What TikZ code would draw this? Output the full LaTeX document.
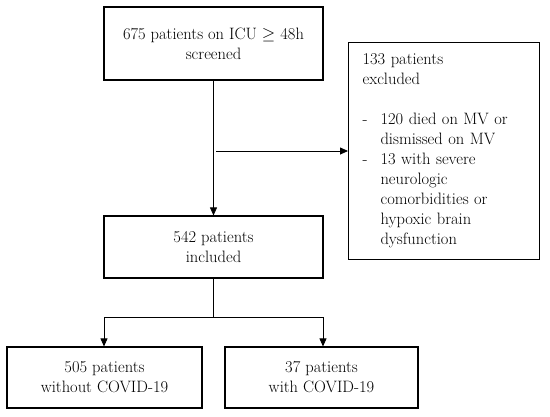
\documentclass[tikz,border=0pt]{standalone}
\usetikzlibrary{arrows.meta}
\begin{document}
\begin{tikzpicture}[x=1pt,y=-1pt,
  box/.style={draw, line width=1.1pt, inner sep=0pt, font=\fontsize{16.5}{20}\selectfont},
  arrow/.style={line width=0.8pt, -{Triangle[length=8pt,width=7pt]}},
  conn/.style={line width=0.8pt}]
\useasboundingbox (0,0) rectangle (550,416);
\node[box, minimum width=219, minimum height=73, align=center] (top) at (213.5,43.5) {675 patients on ICU $\geq$ 48h\\screened};
\node[box, minimum width=191, minimum height=217.5, anchor=north west, align=left, text width=163] (excl) at (348,41.5)
  {133 patients\\excluded\\[20pt]
   \makebox[18pt][l]{-}120 died on MV or\\
   \hspace*{18pt}dismissed on MV\\
   \makebox[18pt][l]{-}13 with severe\\
   \hspace*{18pt}neurologic\\
   \hspace*{18pt}comorbidities or\\
   \hspace*{18pt}hypoxic brain\\
   \hspace*{18pt}dysfunction};
\node[box, minimum width=219, minimum height=62, align=center] (incl) at (213.5,247) {542 patients\\included};
\node[box, minimum width=195, minimum height=61, align=center] (left) at (104.5,377.5) {505 patients\\without COVID-19};
\node[box, minimum width=193, minimum height=61, align=center] (right) at (321.5,377.5) {37 patients\\with COVID-19};
\coordinate (h) at (216,151);
\coordinate (split) at (213.5,317);
\coordinate (lt) at (104,317);
\coordinate (rt) at (323,317);
\draw[arrow] (top) -- (incl);
\draw[arrow] (h) -- (h -| excl.west);
\draw[conn] (incl.south) -- (split);
\draw[arrow] (split) -- (lt) -- (lt |- left.north);
\draw[arrow] (split) -- (rt) -- (rt |- right.north);
\end{tikzpicture}
\end{document}
